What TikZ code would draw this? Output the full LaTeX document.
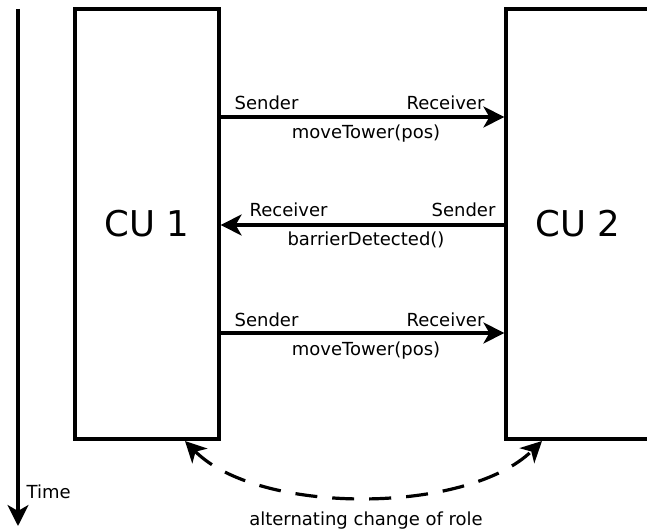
\documentclass[tikz,border=0pt]{standalone}
\usepackage{fontspec}
\setmainfont{DejaVu Sans}
\usetikzlibrary{arrows.meta}
\begin{document}
\begin{tikzpicture}[x=1pt,y=-1pt,line width=3.2pt,
  box/.style={draw,line width=3.2pt,minimum width=144pt,minimum height=430pt,inner sep=0pt,font=\fontsize{35.5}{40}\selectfont},
  lbl/.style={font=\fontsize{18}{20}\selectfont,inner sep=0pt},
  arr/.style={-{Stealth[length=21pt,width=21pt,inset=6pt]}},
  dasharr/.style={{Stealth[length=21pt,width=21pt,inset=6pt]}-{Stealth[length=21pt,width=21pt,inset=6pt]},dash pattern=on 22pt off 15pt}]
\useasboundingbox (0,0) rectangle (647,529);
\clip (0,0) rectangle (647,529);
\node[box] (cu1) at (147,224) {CU 1};
\node[box] (cu2) at (578,224) {CU 2};
% time axis
\coordinate (t0) at (18,9);
\coordinate (t1) at (18,526);
\draw[arr] (t0) -- (t1);
\node[lbl,anchor=base west] (time) at (25,498) {Time};
% messages
\draw[arr] ([yshift=107pt]cu1.east) -- ([yshift=107pt]cu2.west);
\draw[arr] ([yshift=-1pt]cu2.west) -- ([yshift=-1pt]cu1.east);
\draw[arr] ([yshift=-109pt]cu1.east) -- ([yshift=-109pt]cu2.west);
\node[lbl,anchor=base west] (s1) at (233,110) {Sender};
\node[lbl,anchor=base east] (r1) at (486,110) {Receiver};
\node[lbl,anchor=base] (m1) at (366,139) {moveTower(pos)};
\node[lbl,anchor=base west] (r2) at (248,217) {Receiver};
\node[lbl,anchor=base east] (s2) at (497,217) {Sender};
\node[lbl,anchor=base] (m2) at (366,245) {barrierDetected()};
\node[lbl,anchor=base west] (s3) at (233,326) {Sender};
\node[lbl,anchor=base east] (r3) at (486,326) {Receiver};
\node[lbl,anchor=base] (m3) at (366,355) {moveTower(pos)};
% role change
\coordinate (c1) at (185,441);
\coordinate (c2) at (542,441);
\draw[dasharr] (c1) .. controls (258,515) and (466,515) .. (c2);
\node[lbl,anchor=base] (alt) at (366,525) {alternating change of role};
\end{tikzpicture}
\end{document}
